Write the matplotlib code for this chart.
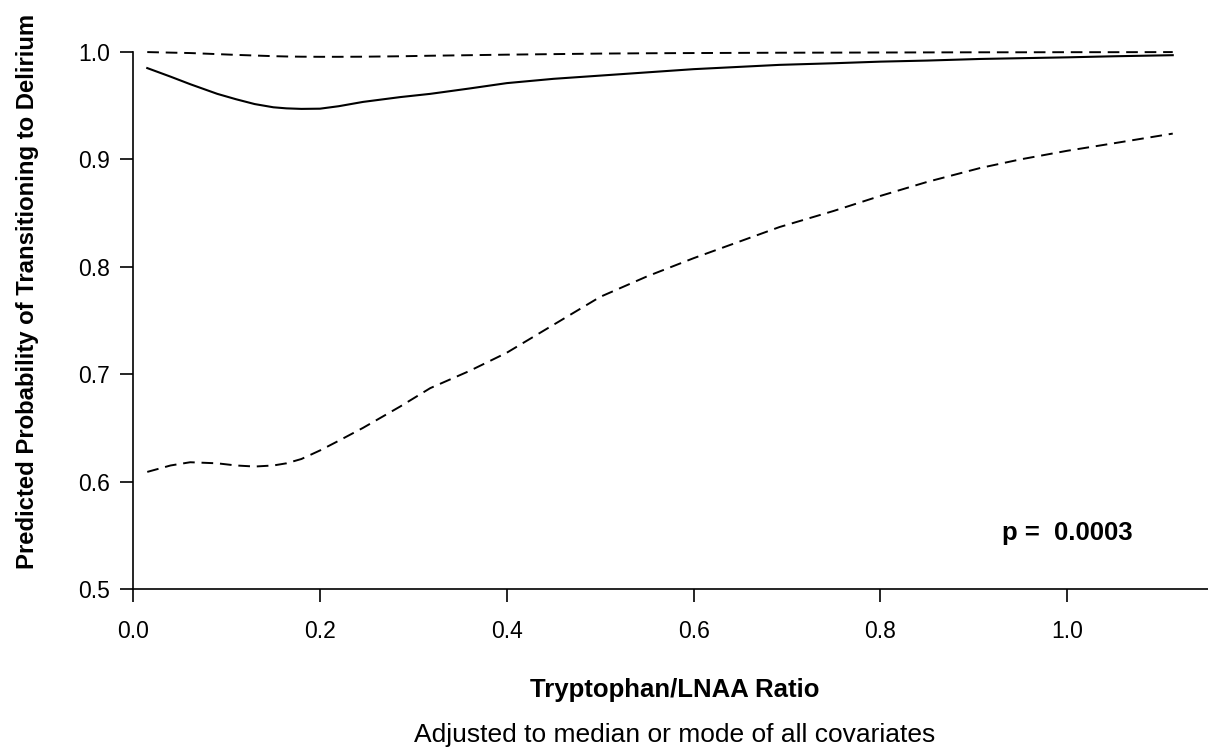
import matplotlib
matplotlib.use("Agg")
import matplotlib.pyplot as plt
import numpy as np

# values
ratio = [0.015, 0.04, 0.061, 0.09, 0.11, 0.13, 0.15, 0.164, 0.18, 0.2, 0.22, 0.246,
         0.286, 0.318, 0.36, 0.4, 0.45, 0.5, 0.55, 0.6, 0.692, 0.75, 0.8, 0.85,
         0.907, 0.95, 1.0, 1.05, 1.113]
prob = [0.985, 0.977, 0.970, 0.961, 0.956, 0.9515, 0.9485, 0.9475, 0.947, 0.9472, 0.9495, 0.9535,
        0.958, 0.961, 0.966, 0.971, 0.975, 0.978, 0.981, 0.984, 0.988, 0.9895, 0.991, 0.992,
        0.9935, 0.9942, 0.995, 0.996, 0.997]
lower = [0.609, 0.615, 0.618, 0.617, 0.615, 0.614, 0.615, 0.617, 0.621, 0.629, 0.638, 0.650,
         0.670, 0.687, 0.703, 0.720, 0.746, 0.772, 0.791, 0.808, 0.837, 0.852, 0.866, 0.879,
         0.892, 0.900, 0.908, 0.915, 0.924]
upper = [0.9999, 0.9994, 0.999, 0.998, 0.9973, 0.9967, 0.9961, 0.9958, 0.9956, 0.9955, 0.9955, 0.9956,
         0.996, 0.9965, 0.997, 0.9975, 0.998, 0.9985, 0.9988, 0.999, 0.9993, 0.9994, 0.9995, 0.9996,
         0.9997, 0.9997, 0.9998, 0.9998, 0.9999]
x_ticks = [0.0, 0.2, 0.4, 0.6, 0.8, 1.0]
y_ticks = [0.5, 0.6, 0.7, 0.8, 0.9, 1.0]
p_text = "p =  0.0003"

plt.rcParams["font.family"] = ["Liberation Sans", "DejaVu Sans"]

fig = plt.figure(figsize=(12.08, 7.5), dpi=100)
ax = fig.add_axes([0.1103, 0.2147, 0.8899, 0.7203])

ax.plot(ratio, prob, color="black", lw=1.5, clip_on=False)
ax.plot(ratio, lower, color="black", lw=1.4, dashes=(6, 3.5), clip_on=False)
ax.plot(ratio, upper, color="black", lw=1.4, dashes=(6, 3.5), clip_on=False)

ax.set_xlim(0, 1.151)
ax.set_ylim(0.5, 1.003)
ax.set_xticks(x_ticks)
ax.set_xticklabels([f"{v:.1f}" for v in x_ticks])
ax.set_yticks(y_ticks)
ax.set_yticklabels([f"{v:.1f}" for v in y_ticks])

for side in ("top", "right"):
    ax.spines[side].set_visible(False)
ax.spines["left"].set_bounds(0.5, 1.0)
for side in ("left", "bottom"):
    ax.spines[side].set_linewidth(1.2)
ax.tick_params(length=9.5, width=1.2, labelsize=16.5)
ax.tick_params(axis="x", pad=13)
ax.tick_params(axis="y", pad=7)

ax.text(1.0, 0.552, p_text, ha="center", va="center",
        fontsize=18.5, fontweight="bold")

fig.text(28 / 1208, 1 - 291 / 750, "Predicted Probability of Transitioning to Delirium",
         rotation=90, ha="center", va="center", fontsize=17.2, fontweight="bold")
fig.text(675 / 1208, 1 - 690 / 750, "Tryptophan/LNAA Ratio",
         ha="center", va="center", fontsize=18.5, fontweight="bold")
fig.text(675 / 1208, 1 - 735 / 750, "Adjusted to median or mode of all covariates",
         ha="center", va="center", fontsize=19)

fig.savefig("out.png", dpi=100)
